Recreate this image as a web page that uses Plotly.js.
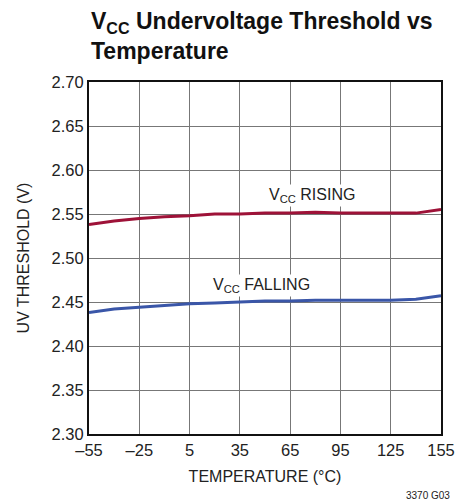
<!DOCTYPE html>
<html><head><meta charset="utf-8">
<script src="https://cdn.plot.ly/plotly-3.0.1.min.js"></script>
<style>body{margin:0;background:#fff}#c{width:471px;height:504px}</style>
</head><body><div id="c"></div>
<script>
var temps = [-55,-40,-25,-10,5,20,35,50,65,80,95,110,125,140,155];
var rising = [2.538,2.542,2.545,2.547,2.548,2.550,2.550,2.551,2.551,2.552,2.551,2.551,2.551,2.551,2.555];
var falling = [2.438,2.442,2.444,2.446,2.448,2.449,2.450,2.451,2.451,2.452,2.452,2.452,2.452,2.453,2.457];
var xTickVals = [-55,-25,5,35,65,95,125,155];
var xTickText = ['–55','–25','5','35','65','95','125','155'];
var yTickVals = [2.30,2.35,2.40,2.45,2.50,2.55,2.60,2.65,2.70];

var F = 'Liberation Sans, Arial, sans-serif';
var data = [
  {x: temps, y: rising, mode:'lines', line:{color:'#9e1238', width:3}, hoverinfo:'skip'},
  {x: temps, y: falling, mode:'lines', line:{color:'#3a56a8', width:3}, hoverinfo:'skip'}
];
var layout = {
  width:471, height:504,
  margin:{l:89, r:30, t:82, b:70},
  paper_bgcolor:'#fff', plot_bgcolor:'#fff',
  showlegend:false,
  font:{family:F, color:'#222', size:16},
  xaxis:{range:[-55,155], tickvals:xTickVals, ticktext:xTickText,
    showgrid:true, gridcolor:'#777', gridwidth:1, zeroline:false,
    showline:true, mirror:true, linecolor:'#111', linewidth:2,
    ticks:'', ticklen:0, tickfont:{size:16.5, family:F, color:'#222'},
    title:{text:'TEMPERATURE (°C)', font:{size:16, family:F, color:'#222'}, standoff:13}},
  yaxis:{range:[2.30,2.70], tickvals:yTickVals, tickformat:'.2f',
    showgrid:true, gridcolor:'#777', gridwidth:1, zeroline:false,
    showline:true, mirror:true, linecolor:'#111', linewidth:2,
    ticks:'', tickfont:{size:16.5, family:F, color:'#222'},
    title:{text:'UV THRESHOLD (V)', font:{size:16, family:F, color:'#222'}, standoff:18}},
  annotations:[
    {text:'<b>V<sub>CC</sub> Undervoltage Threshold vs<br>Temperature</b>', x:0, y:1,
     xref:'paper', yref:'paper', xanchor:'left', yanchor:'bottom', align:'left', yshift:16,
     showarrow:false, font:{size:23, family:F, color:'#111'}},
    {text:'V<sub>CC</sub> RISING', x:78, y:2.5705, xref:'x', yref:'y', showarrow:false,
     font:{size:16, family:F, color:'#222'}, bgcolor:'#fff'},
    {text:'V<sub>CC</sub> FALLING', x:48, y:2.4685, xref:'x', yref:'y', showarrow:false,
     font:{size:16, family:F, color:'#222'}, bgcolor:'#fff'},
    {text:'3370 G03', x:1.03, y:0, xref:'paper', yref:'paper', xanchor:'right', yanchor:'top',
     yshift:-54, showarrow:false, font:{size:10, family:F, color:'#222'}}
  ]
};
Plotly.newPlot('c', data, layout, {staticPlot:true, displayModeBar:false});
</script></body></html>
